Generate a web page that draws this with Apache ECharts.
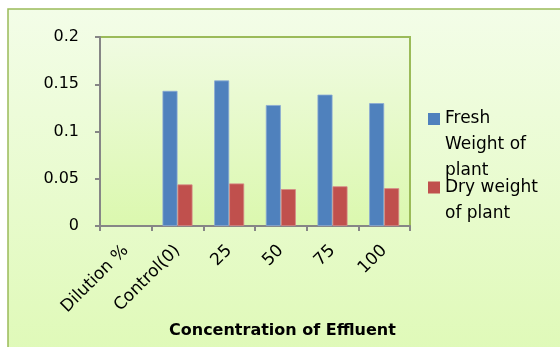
<!DOCTYPE html>
<html>
<head>
<meta charset="utf-8">
<script src="https://cdn.jsdelivr.net/npm/echarts@6/dist/echarts.min.js"></script>
<style>html,body{margin:0;padding:0;background:#fff}#c{width:560px;height:347px}</style>
</head>
<body>
<div id="c"></div>
<script>
var categories = ['Dilution %', 'Control(0)', '25', '50', '75', '100'];
var freshWeight = [null, 0.143, 0.154, 0.128, 0.139, 0.130];
var dryWeight = [null, 0.044, 0.045, 0.039, 0.042, 0.040];
var yTicks = [0, 0.05, 0.1, 0.15, 0.2];
var seriesNames = ['Fresh Weight of plant', 'Dry weight of plant'];
var legendLines = ['\n\nFresh\nWeight of\nplant', '\nDry weight\nof plant'];
var xTitle = 'Concentration of Effluent';

var FONT = 'DejaVu Sans';
var chart = echarts.init(document.getElementById('c'));
function grad(top, bottom) {
  return new echarts.graphic.LinearGradient(0, 0, 0, 1, [{offset: 0, color: top}, {offset: 1, color: bottom}]);
}
var legendCommon = {
  left: 428, padding: 0, orient: 'vertical',
  icon: 'rect', itemWidth: 12, itemHeight: 12,
  itemStyle: {borderWidth: 0},
  textStyle: {fontFamily: FONT, fontSize: 17, color: '#000', lineHeight: 26}
};
chart.setOption({
  animation: false,
  graphic: [{
    type: 'rect', z: -10, silent: true,
    shape: {x: 8, y: 9, width: 600, height: 400},
    style: {fill: grad('#f3fde8', '#dcf9b0'), stroke: '#9bbb59', lineWidth: 1.5}
  }],
  title: {
    text: xTitle, left: 169, top: 323, padding: 0,
    textStyle: {fontFamily: FONT, fontSize: 16, fontWeight: 'bold', color: '#000'}
  },
  legend: [
    Object.assign({}, legendCommon, {data: [seriesNames[0]], top: 54,
      formatter: function () { return legendLines[0]; }}),
    Object.assign({}, legendCommon, {data: [seriesNames[1]], top: 148.5,
      formatter: function () { return legendLines[1]; }})
  ],
  grid: {
    left: 100, top: 37, right: 150, bottom: 121, show: true,
    backgroundColor: grad('#f0fbe2', '#dbf8ae'), borderColor: '#9bbb59', borderWidth: 2
  },
  xAxis: {
    type: 'category', data: categories,
    axisLine: {lineStyle: {color: '#868686', width: 2}},
    axisTick: {show: true, length: 5, lineStyle: {color: '#868686', width: 2}},
    axisLabel: {rotate: 45, margin: 22, fontFamily: FONT, fontSize: 17, color: '#000', interval: 0}
  },
  yAxis: {
    type: 'value', min: yTicks[0], max: yTicks[yTicks.length - 1], interval: yTicks[1] - yTicks[0],
    axisLine: {show: true, lineStyle: {color: '#868686', width: 2}},
    axisTick: {show: true, length: 5, lineStyle: {color: '#868686', width: 2}},
    splitLine: {show: false},
    axisLabel: {margin: 21, fontFamily: FONT, fontSize: 16, color: '#000'}
  },
  series: [{
    name: seriesNames[0], type: 'bar', data: freshWeight, barWidth: 15, barGap: '0%',
    itemStyle: {color: '#4f81bd', borderColor: '#8aaad4', borderWidth: 0.8}
  }, {
    name: seriesNames[1], type: 'bar', data: dryWeight, barWidth: 15, barGap: '0%',
    itemStyle: {color: '#c0504d', borderColor: '#d58886', borderWidth: 0.8}
  }]
});
</script>
</body>
</html>
